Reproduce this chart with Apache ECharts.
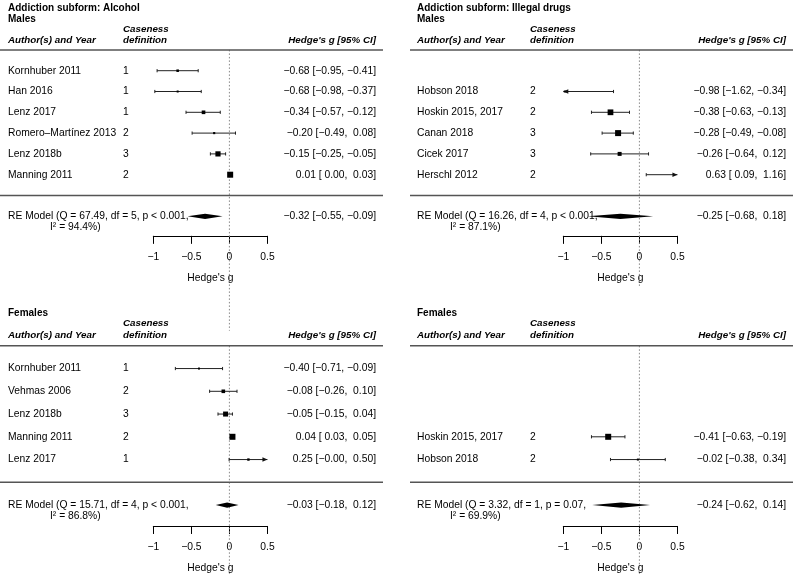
<!DOCTYPE html>
<html>
<head>
<meta charset="utf-8">
<script src="https://cdn.jsdelivr.net/npm/echarts@6/dist/echarts.min.js"></script>
<style>
  html, body { margin: 0; padding: 0; background: #fff; }
  #chart { width: 793px; height: 574px; }
</style>
</head>
<body>
<div id="chart"></div>
<script>
// Alcohol, males
const alcMaleStudy = ['Kornhuber 2011', 'Han 2016', 'Lenz 2017', 'Romero–Martínez 2013', 'Lenz 2018b', 'Manning 2011']
const alcMaleCase = [1, 1, 1, 2, 3, 2]
const alcMaleG = [-0.68, -0.68, -0.34, -0.20, -0.15, 0.01]
const alcMaleLo = [-0.95, -0.98, -0.57, -0.49, -0.25, 0.00]
const alcMaleHi = [-0.41, -0.37, -0.12, 0.08, -0.05, 0.03]
const alcMaleWeight = [14.3, 13.1, 16.8, 13.4, 20.3, 22.1]
const alcMaleRE = [-0.32, -0.55, -0.09]
const alcMaleHet = [67.49, 5, '< 0.001', 94.4]

// Alcohol, females
const alcFemStudy = ['Kornhuber 2011', 'Vehmas 2006', 'Lenz 2018b', 'Manning 2011', 'Lenz 2017']
const alcFemCase = [1, 2, 3, 2, 1]
const alcFemG = [-0.40, -0.08, -0.05, 0.04, 0.25]
const alcFemLo = [-0.71, -0.26, -0.15, 0.03, -0.004]
const alcFemHi = [-0.09, 0.10, 0.04, 0.05, 0.504]
const alcFemWeight = [15.5, 19.5, 23.0, 25.5, 16.5]
const alcFemRE = [-0.03, -0.18, 0.12]
const alcFemHet = [15.71, 4, '< 0.001', 86.8]

// Illegal drugs, males
const drugMaleStudy = ['Hobson 2018', 'Hoskin 2015, 2017', 'Canan 2018', 'Cicek 2017', 'Herschl 2012']
const drugMaleCase = [2, 2, 3, 3, 2]
const drugMaleG = [-0.98, -0.38, -0.28, -0.26, 0.63]
const drugMaleLo = [-1.62, -0.63, -0.49, -0.64, 0.09]
const drugMaleHi = [-0.34, -0.13, -0.08, 0.12, 1.16]
const drugMaleWeight = [12.5, 26.5, 27.5, 20.0, 13.5]
const drugMaleRE = [-0.25, -0.68, 0.18]
const drugMaleHet = [16.26, 4, '< 0.001', 87.1]

// Illegal drugs, females
const drugFemStudy = ['Hoskin 2015, 2017', 'Hobson 2018']
const drugFemCase = [2, 2]
const drugFemG = [-0.41, -0.02]
const drugFemLo = [-0.63, -0.38]
const drugFemHi = [-0.19, 0.34]
const drugFemWeight = [52.7, 47.3]
const drugFemRE = [-0.24, -0.62, 0.14]
const drugFemHet = [3.32, 1, '= 0.07', 69.9]

const xTicks = [-1, -0.5, 0, 0.5]
const xMin = -1
const xMax = 0.5

const FONT = 'Liberation Sans, Arial, Helvetica, sans-serif'
const FS = 10.3
const INK = '#000'

// column layout (left / right half)
const cols = [
  { author: 8, caseX: 123, est: 376, lineFrom: 0, lineTo: 383, axisLeft: 153.3, reIndent: 42 },
  { author: 417, caseX: 530, est: 786, lineFrom: 410, lineTo: 793, axisLeft: 563.3, reIndent: 33 }
]
// row layout (upper / lower half)
const tiers = [
  { row0: 195.5, rowH: 20.8, yMin: -1.94, head: 7 },
  { row0: 482.3, rowH: 22.75, yMin: -1.92, head: 6 }
]

const panels = [
  { side: 0, tier: 0, title: 'Addiction subform: Alcohol', group: 'Males', study: alcMaleStudy, cases: alcMaleCase, g: alcMaleG, lo: alcMaleLo, hi: alcMaleHi, w: alcMaleWeight, re: alcMaleRE, het: alcMaleHet, refEnd: -6.5 },
  { side: 1, tier: 0, title: 'Addiction subform: Illegal drugs', group: 'Males', study: drugMaleStudy, cases: drugMaleCase, g: drugMaleG, lo: drugMaleLo, hi: drugMaleHi, w: drugMaleWeight, re: drugMaleRE, het: drugMaleHet, refEnd: -4.4 },
  { side: 0, tier: 1, title: '', group: 'Females', study: alcFemStudy, cases: alcFemCase, g: alcFemG, lo: alcFemLo, hi: alcFemHi, w: alcFemWeight, re: alcFemRE, het: alcFemHet, refEnd: -4.1 },
  { side: 1, tier: 1, title: '', group: 'Females', study: drugFemStudy, cases: drugFemCase, g: drugFemG, lo: drugFemLo, hi: drugFemHi, w: drugFemWeight, re: drugFemRE, het: drugFemHet, refEnd: -4.1 }
]

const minus = v => (v < 0 ? '\u2212' : '') + Math.abs(v)
const num = v => (v < 0 ? '\u2212' : ' ') + Math.abs(v).toFixed(2)
const estLabel = (g, lo, hi) => num(g).trim() + ' [' + num(lo) + ', ' + num(hi) + ']'

function txt (x, y, text, align, weight, style, size) {
  return {
    type: 'text',
    x: x,
    y: y,
    style: {
      text: text,
      fill: INK,
      align: align,
      verticalAlign: 'middle',
      fontFamily: FONT,
      fontSize: size || FS,
      fontWeight: weight || 'normal',
      fontStyle: style || 'normal'
    }
  }
}

function seg (x1, y1, x2, y2, stroke, width, dash) {
  return {
    type: 'line',
    shape: { x1: x1, y1: y1, x2: x2, y2: y2 },
    style: { stroke: stroke, lineWidth: width, lineDash: dash || null }
  }
}

function arrowHead (x, y, dir) {
  return {
    type: 'polygon',
    shape: { points: [[x, y], [x - dir * 5, y - 2.2], [x - dir * 5, y + 2.2]] },
    style: { fill: '#111' }
  }
}

function studySeries (p, pi) {
  const L = cols[p.side]
  const wMin = Math.min(...p.w)
  const wMax = Math.max(...p.w)
  const n = p.study.length
  return {
    type: 'custom',
    xAxisIndex: pi,
    yAxisIndex: pi,
    clip: false,
    silent: true,
    data: p.g.map((g, i) => [g, n - i, p.lo[i], p.hi[i], p.w[i]]),
    renderItem (params, api) {
      const i = params.dataIndex
      const g = api.value(0)
      const row = api.value(1)
      const lo = api.value(2)
      const hi = api.value(3)
      const w = api.value(4)
      const y = api.coord([0, row])[1]
      const a = api.coord([Math.max(lo, xMin), row])[0]
      const b = api.coord([Math.min(hi, xMax), row])[0]
      const cap = 1.6
      const kids = [seg(a, y, b, y, '#222', 1)]
      kids.push(lo < xMin ? arrowHead(a, y, -1) : seg(a, y - cap, a, y + cap, '#222', 1))
      kids.push(hi > xMax ? arrowHead(b, y, 1) : seg(b, y - cap, b, y + cap, '#222', 1))
      if (g >= xMin && g <= xMax) {
        const s = wMax > wMin ? 2 + (w - wMin) / (wMax - wMin) * 4 : 4
        const cx = api.coord([g, row])[0]
        kids.push({ type: 'rect', shape: { x: cx - s / 2, y: y - s / 2, width: s, height: s }, style: { fill: '#000' } })
      }
      kids.push(txt(L.author, y, p.study[i], 'left'))
      kids.push(txt(L.caseX, y, String(p.cases[i]), 'left'))
      kids.push(txt(L.est, y, estLabel(g, lo, hi), 'right'))
      return { type: 'group', children: kids }
    }
  }
}

function frameSeries (p, pi) {
  const L = cols[p.side]
  const T = tiers[p.tier]
  return {
    type: 'custom',
    xAxisIndex: pi,
    yAxisIndex: pi,
    clip: false,
    silent: true,
    data: [[p.re[0], -1, p.re[1], p.re[2]]],
    renderItem (params, api) {
      const H = T.head
      const yOf = r => api.coord([0, r])[1]
      const x0 = api.coord([0, 0])[0]
      const yRE = yOf(-1)
      const xg = api.coord([api.value(0), -1])[0]
      const xl = api.coord([api.value(2), -1])[0]
      const xr = api.coord([api.value(3), -1])[0]
      const het = p.het
      const kids = [
        seg(x0, yOf(H), x0, yOf(p.refEnd), '#888', 1, [1.5, 2]),
        seg(L.lineFrom, yOf(H), L.lineTo, yOf(H), '#555', 1.5),
        seg(L.lineFrom, yOf(0), L.lineTo, yOf(0), '#555', 1.5),
        txt(L.author, yOf(H + 0.46), 'Author(s) and Year', 'left', 'bold', 'italic', 9.8),
        txt(L.caseX, yOf(H + 0.46), 'definition', 'left', 'bold', 'italic', 9.8),
        txt(L.caseX, yOf(H + 0.98), 'Caseness', 'left', 'bold', 'italic', 9.8),
        txt(L.est, yOf(H + 0.46), "Hedge's g [95% CI]", 'right', 'bold', 'italic', 9.8),
        txt(L.author, yOf(H + 1.45), p.group, 'left', 'bold', 'normal', 10),
        {
          type: 'polygon',
          shape: { points: [[xl, yRE], [xg, yRE - 2.6], [xr, yRE], [xg, yRE + 2.6]] },
          style: { fill: '#000' }
        },
        txt(L.author, yRE, 'RE Model (Q = ' + het[0].toFixed(2) + ', df = ' + het[1] + ', p ' + het[2] + ',', 'left'),
        txt(L.author + L.reIndent, yOf(-1.5), 'I\u00b2 = ' + het[3].toFixed(1) + '%)', 'left'),
        txt(L.est, yRE, estLabel(api.value(0), api.value(2), api.value(3)), 'right')
      ]
      if (p.title) kids.push(txt(L.author, yOf(H + 1.98), p.title, 'left', 'bold', 'normal', 10))
      return { type: 'group', children: kids }
    }
  }
}

const chart = echarts.init(document.getElementById('chart'))

const option = {
  animation: false,
  backgroundColor: '#fff',
  grid: panels.map(p => {
    const T = tiers[p.tier]
    return {
      left: cols[p.side].axisLeft,
      width: (xMax - xMin) * 76.1,
      top: T.row0 - T.head * T.rowH,
      height: (T.head - T.yMin) * T.rowH,
      containLabel: false
    }
  }),
  xAxis: panels.map((p, i) => ({
    type: 'value',
    gridIndex: i,
    min: xMin,
    max: xMax,
    interval: 0.5,
    name: "Hedge's g",
    nameLocation: 'middle',
    nameGap: 37,
    nameTextStyle: { color: INK, fontFamily: FONT, fontSize: FS },
    axisLine: { show: true, onZero: false, lineStyle: { color: '#000', width: 1 } },
    axisTick: { show: true, inside: false, length: 8, lineStyle: { color: '#000', width: 1 } },
    axisLabel: {
      color: INK,
      fontFamily: FONT,
      fontSize: FS,
      margin: 16,
      formatter: v => (xTicks.includes(v) ? minus(v) : '')
    },
    splitLine: { show: false }
  })),
  yAxis: panels.map((p, i) => ({
    type: 'value',
    gridIndex: i,
    min: tiers[p.tier].yMin,
    max: tiers[p.tier].head,
    show: false,
    splitLine: { show: false }
  })),
  series: panels.flatMap((p, i) => [frameSeries(p, i), studySeries(p, i)])
}

chart.setOption(option)
</script>
</body>
</html>
